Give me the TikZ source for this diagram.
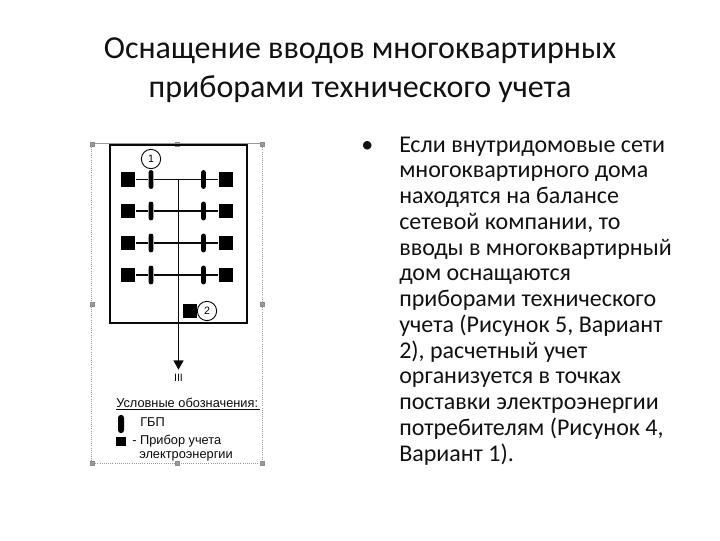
\documentclass[tikz,border=0pt]{standalone}
\usepackage{fontspec}
\setmainfont{Carlito}
\newfontfamily\legendfont{Liberation Sans}
\usetikzlibrary{arrows.meta}
\definecolor{inkc}{HTML}{0A0A0A}
\definecolor{txt}{HTML}{111111}
\tikzset{
  x=0.75pt,y=-0.75pt,
  meter/.style={fill=black,draw=none,minimum size=11.2pt,inner sep=0pt},
  smallmeter/.style={fill=black,draw=none,minimum size=7.4pt,inner sep=0pt},
  breaker/.style={fill=black,draw=none,rounded corners=1.5pt,minimum width=3.4pt,minimum height=14pt,inner sep=0pt},
  tag/.style={circle,draw=inkc,line width=0.7pt,minimum size=14.5pt,inner sep=0pt,font=\legendfont\fontsize{8}{9}\selectfont},
  wire/.style={draw=inkc,line width=1pt},
  titleline/.style={anchor=center,inner sep=0pt,text=txt,font=\fontsize{24}{26}\selectfont},
  bodyline/.style={anchor=base west,inner sep=0pt,text=txt,font=\fontsize{18}{20}\selectfont},
  legend/.style={anchor=base west,inner sep=0pt,text=inkc,font=\legendfont\fontsize{9.6}{11}\selectfont},
  handle/.style={fill=gray!80,draw=gray!90,minimum size=3pt,inner sep=0pt},
}
\begin{document}
\begin{tikzpicture}
\useasboundingbox (0,0) rectangle (720,540);
% title
\node[titleline] (t1) at (360,51) {Оснащение вводов многоквартирных};
\node[titleline] (t2) at (360,89) {приборами технического учета};
% body
\node[bodyline] (bul) at (361,152) {•};
\foreach \n/\s [count=\i from 0] in {
 b0/Если внутридомовые сети,
 b1/многоквартирного дома,
 b2/находятся на балансе,
 b3/{сетевой компании, то},
 b4/вводы в многоквартирный,
 b5/дом оснащаются,
 b6/приборами технического,
 b7/{учета (Рисунок 5, Вариант},
 b8/{2), расчетный учет},
 b9/организуется в точках,
 b10/поставки электроэнергии,
 b11/{потребителям (Рисунок 4,},
 b12/{Вариант 1).}}
  \node[bodyline] (\n) at (399,152+25.75*\i) {\s};
% selection frame
\coordinate (fa) at (91.5,143); \coordinate (fb) at (262.5,143);
\coordinate (fc) at (262.5,463); \coordinate (fd) at (91.5,463);
\draw[gray!80,line width=0.5pt] (fa) -- (fb);
\draw[gray!80,line width=0.6pt,densely dotted] (fb) -- (fc) -- (fd) -- (fa);
\foreach \n/\p in {h1/{92,144},h2/{177,144},h3/{262,144},h4/{92,304},h5/{262,304},h6/{92,463},h7/{177,463},h8/{262,463}}
  \node[handle] (\n) at (\p) {};
% building
\node[draw=inkc,line width=1.2pt,minimum width=102.5pt,minimum height=133.5pt,inner sep=0pt] (house) at (178.5,234) {};
% trunk
\coordinate (top) at (178.5,179.5);
\node[inner sep=0pt,minimum size=0pt] (end) at (178.5,370) {};
\draw[wire,-{Triangle[length=7pt,width=7.5pt]}] (top) -- (end);
% rows
\foreach \r/\y in {1/179.5,2/211,3/243,4/275}{
  \node[meter] (ml\r) at (128,\y) {};
  \node[meter] (mr\r) at (226,\y) {};
  \node[breaker] (bl\r) at (151,\y) {};
  \node[breaker] (br\r) at (203.5,\y) {};
  \draw[wire] (ml\r) -- (bl\r) -- (br\r) -- (mr\r);
}
\node[meter] (mm) at (190,311) {};
\node[tag] (c1) at (151,159) {1};
\node[tag] (c2) at (207,311) {2};
% feeder label
\node[inner sep=0pt,text=inkc,font=\legendfont\fontsize{8}{9}\selectfont] (iii) at (178.5,378) {III};
% legend
\node[legend] (lg) at (116,407) {Условные обозначения:};
\coordinate (ula) at (116,409); \coordinate (ulb) at (260,409);
\draw[inkc,line width=0.5pt] (ula) -- (ulb);
\node[breaker,minimum width=4.5pt,minimum height=13.5pt,rounded corners=2pt] (lb) at (121,424) {};
\node[legend] (gbp) at (140,426) {ГБП};
\node[smallmeter] (lm) at (121,441.5) {};
\node[legend] (pr) at (132,444) {- Прибор учета};
\node[legend] (el) at (139,458.5) {электроэнергии};
\end{tikzpicture}
\end{document}
